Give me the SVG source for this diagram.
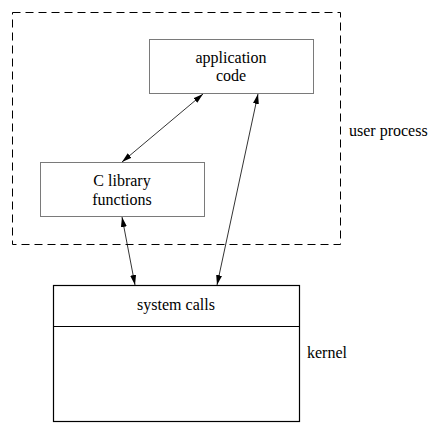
<svg xmlns="http://www.w3.org/2000/svg" width="440" height="436" viewBox="0 0 440 436">
<style>
text{font-family:'Liberation Serif','Times New Roman',serif;font-size:16px;fill:#000;text-anchor:middle}
.lbl{text-anchor:start}
.box{fill:#fff;stroke:#7a7a7a;stroke-width:1}
.kbox{fill:#fff;stroke:#000;stroke-width:1.2}
.conn{stroke:#000;stroke-width:0.8;fill:none;marker-start:url(#ah);marker-end:url(#ah)}
</style>
<defs>
<marker id="ah" viewBox="0 0 10 6" refX="10" refY="3" markerWidth="10" markerHeight="6" markerUnits="userSpaceOnUse" orient="auto-start-reverse">
<path d="M0,0 L10,3 L0,6 Z" fill="#000"/>
</marker>
</defs>
<rect width="440" height="436" fill="#fff"/>
<g id="user-process">
<rect x="12.5" y="12.5" width="328" height="232" fill="none" stroke="#000" stroke-width="1" stroke-dasharray="8,5"/>
<text class="lbl" x="349" y="136">user process</text>
</g>
<g id="application-code">
<rect class="box" x="149.5" y="39.5" width="164" height="54"/>
<text x="231" y="63">application</text>
<text x="231" y="81">code</text>
</g>
<g id="c-library">
<rect class="box" x="40.5" y="162.5" width="164" height="54"/>
<text x="122" y="186">C library</text>
<text x="122" y="205">functions</text>
</g>
<g id="kernel">
<rect class="kbox" x="53.5" y="285.5" width="246" height="136"/>
<line x1="53.5" y1="326.5" x2="299.5" y2="326.5" stroke="#000" stroke-width="1.2"/>
<text x="176" y="310">system calls</text>
<text class="lbl" x="307" y="358">kernel</text>
</g>
<g id="connectors">
<line class="conn" x1="203" y1="94" x2="122" y2="162"/>
<line class="conn" x1="258" y1="94" x2="217" y2="285"/>
<line class="conn" x1="122" y1="217" x2="135" y2="285"/>
</g>
</svg>
